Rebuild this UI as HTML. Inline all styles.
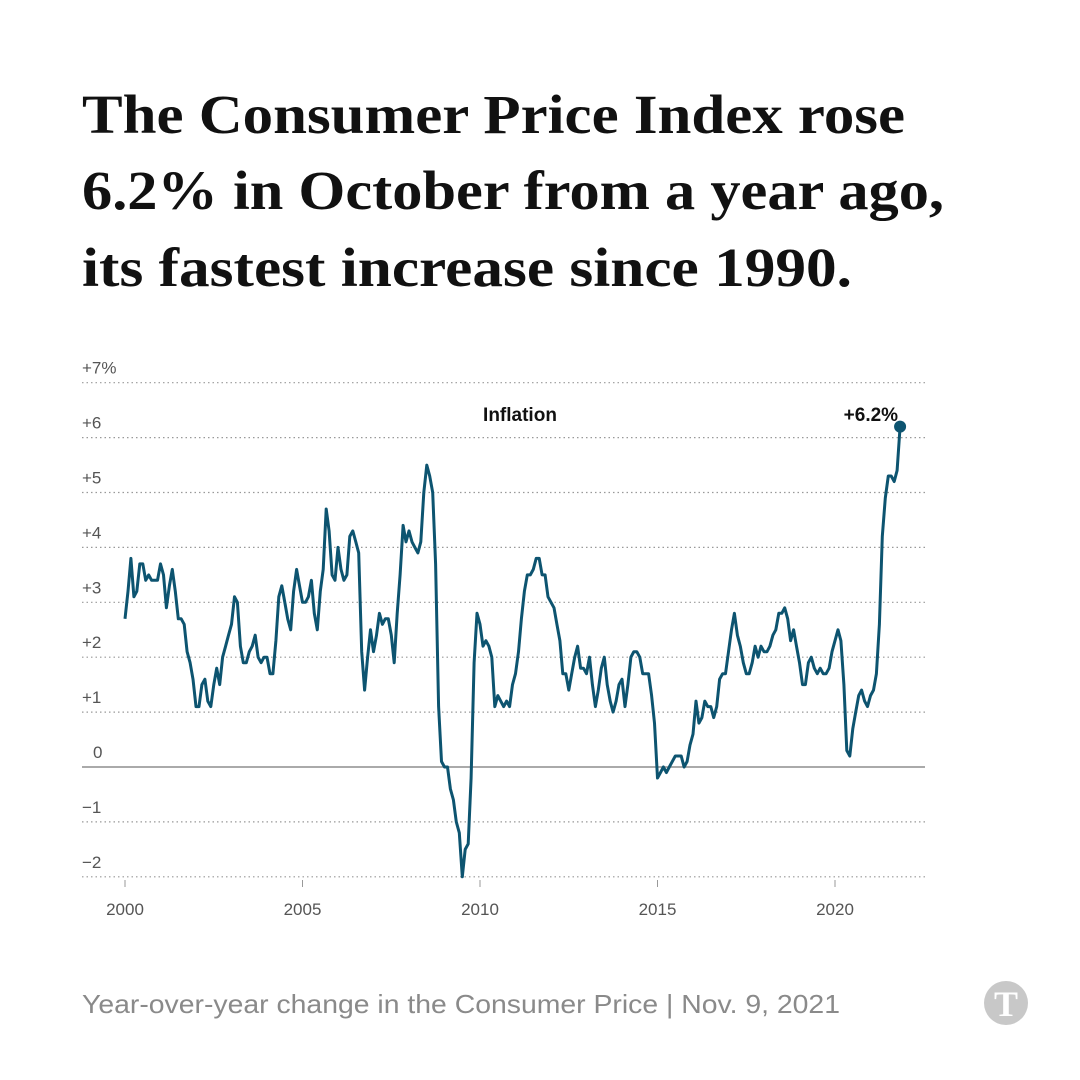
<!DOCTYPE html>
<html><head><meta charset="utf-8"><style>
html,body{margin:0;padding:0;background:#fff;}
svg{display:block;}
</style></head><body>
<svg id="chart" width="1080" height="1080" viewBox="0 0 1080 1080" xmlns="http://www.w3.org/2000/svg">
<rect width="1080" height="1080" fill="#fff"/>
<g font-family="'Liberation Serif', serif" font-weight="bold" font-size="55" fill="#111">
<text x="82" y="133" textLength="823" lengthAdjust="spacingAndGlyphs">The Consumer Price Index rose</text>
<text x="82" y="209" textLength="862" lengthAdjust="spacingAndGlyphs">6.2% in October from a year ago,</text>
<text x="82" y="286" textLength="770" lengthAdjust="spacingAndGlyphs">its fastest increase since 1990.</text>
</g>
<g id="grid"></g>
<g id="xaxis"></g>
<path id="line" fill="none" stroke="#0d5470" stroke-width="3" stroke-linejoin="round"/>
<g id="ann"></g>
<text x="82" y="1013" font-family="'Liberation Sans', sans-serif" font-size="26" fill="#8a8a8a" textLength="758" lengthAdjust="spacingAndGlyphs">Year-over-year change in the Consumer Price | Nov. 9, 2021</text>
<g>
<circle cx="1006" cy="1003" r="22" fill="#c8c8c8"/>
<text x="1006" y="1016" text-anchor="middle" font-family="'Liberation Serif', serif" font-weight="bold" font-size="36" fill="#fff">T</text>
</g>
</svg>
<script>
const yTicks=[-2,-1,0,1,2,3,4,5,6,7];
const yTickLabels=["\u22122","\u22121","0","+1","+2","+3","+4","+5","+6","+7%"];
const xTicks=[2000,2005,2010,2015,2020];
const startYear=2000;
const cpiYoY=[
2.7,3.2,3.8,3.1,3.2,3.7,3.7,3.4,3.5,3.4,3.4,3.4,
3.7,3.5,2.9,3.3,3.6,3.2,2.7,2.7,2.6,2.1,1.9,1.6,
1.1,1.1,1.5,1.6,1.2,1.1,1.5,1.8,1.5,2.0,2.2,2.4,
2.6,3.1,3.0,2.2,1.9,1.9,2.1,2.2,2.4,2.0,1.9,2.0,
2.0,1.7,1.7,2.3,3.1,3.3,3.0,2.7,2.5,3.2,3.6,3.3,
3.0,3.0,3.1,3.4,2.8,2.5,3.2,3.6,4.7,4.3,3.5,3.4,
4.0,3.6,3.4,3.5,4.2,4.3,4.1,3.9,2.1,1.4,2.0,2.5,
2.1,2.4,2.8,2.6,2.7,2.7,2.4,1.9,2.8,3.5,4.4,4.1,
4.3,4.1,4.0,3.9,4.1,5.0,5.5,5.3,5.0,3.7,1.1,0.1,
0.0,0.0,-0.4,-0.6,-1.0,-1.2,-2.0,-1.5,-1.4,-0.2,1.9,2.8,
2.6,2.2,2.3,2.2,2.0,1.1,1.3,1.2,1.1,1.2,1.1,1.5,
1.7,2.1,2.7,3.2,3.5,3.5,3.6,3.8,3.8,3.5,3.5,3.1,
3.0,2.9,2.6,2.3,1.7,1.7,1.4,1.7,2.0,2.2,1.8,1.8,
1.7,2.0,1.5,1.1,1.4,1.8,2.0,1.5,1.2,1.0,1.2,1.5,
1.6,1.1,1.5,2.0,2.1,2.1,2.0,1.7,1.7,1.7,1.3,0.8,
-0.2,-0.1,0.0,-0.1,0.0,0.1,0.2,0.2,0.2,0.0,0.1,0.4,
0.6,1.2,0.8,0.9,1.2,1.1,1.1,0.9,1.1,1.6,1.7,1.7,
2.1,2.5,2.8,2.4,2.2,1.9,1.7,1.7,1.9,2.2,2.0,2.2,
2.1,2.1,2.2,2.4,2.5,2.8,2.8,2.9,2.7,2.3,2.5,2.2,
1.9,1.5,1.5,1.9,2.0,1.8,1.7,1.8,1.7,1.7,1.8,2.1,
2.3,2.5,2.3,1.5,0.3,0.2,0.7,1.0,1.3,1.4,1.2,1.1,
1.3,1.4,1.7,2.6,4.2,4.9,5.3,5.3,5.2,5.4,6.2
];
const x0=125, pxPerYear=35.5, y0=767, pxPerUnit=54.9;
const xs=v=>x0+(v-startYear)*pxPerYear;
const ys=v=>y0-v*pxPerUnit;
const NS="http://www.w3.org/2000/svg";
const grid=document.getElementById('grid');
yTicks.forEach((t,i)=>{
  const l=document.createElementNS(NS,'line');
  
  
  l.setAttribute('x1',82);l.setAttribute('x2',925);
  l.setAttribute('y1',ys(t));l.setAttribute('y2',ys(t));
  if(t===0){l.setAttribute('stroke','#777');l.setAttribute('stroke-width','1.3');}
  else{l.setAttribute('stroke','#999');l.setAttribute('stroke-width','1.2');l.setAttribute('stroke-dasharray','1.5 3');}
  grid.appendChild(l);
  const tx=document.createElementNS(NS,'text');
  
  
  tx.setAttribute('x',t===0?93:82);tx.setAttribute('y',ys(t)-9);
  tx.setAttribute('font-family',"'Liberation Sans', sans-serif");
  tx.setAttribute('font-size','17');tx.setAttribute('fill','#555');
  tx.textContent=yTickLabels[i];
  grid.appendChild(tx);
});
const xa=document.getElementById('xaxis');
xTicks.forEach(t=>{
  const l=document.createElementNS(NS,'line');
  
  
  l.setAttribute('x1',xs(t));l.setAttribute('x2',xs(t));
  l.setAttribute('y1',880);l.setAttribute('y2',887);
  l.setAttribute('stroke','#999');
  xa.appendChild(l);
  const tx=document.createElementNS(NS,'text');
  
  
  tx.setAttribute('x',xs(t));tx.setAttribute('y',915);
  tx.setAttribute('text-anchor','middle');
  tx.setAttribute('font-family',"'Liberation Sans', sans-serif");
  tx.setAttribute('font-size','17');tx.setAttribute('fill','#555');
  tx.textContent=t;
  xa.appendChild(tx);
});
let d='';
cpiYoY.forEach((v,i)=>{d+=(i?'L':'M')+xs(startYear+i/12).toFixed(1)+','+ys(v).toFixed(1);});
document.getElementById('line').setAttribute('d',d);
const ann=document.getElementById('ann');
const li=cpiYoY.length-1;
const c=document.createElementNS(NS,'circle');


c.setAttribute('cx',xs(startYear+li/12));c.setAttribute('cy',ys(cpiYoY[li]));
c.setAttribute('r',6);c.setAttribute('fill','#0d5470');
ann.appendChild(c);
const lab=document.createElementNS(NS,'text');


lab.setAttribute('x',xs(startYear+li/12)-2);lab.setAttribute('y',421);
lab.setAttribute('text-anchor','end');
lab.setAttribute('font-family',"'Liberation Sans', sans-serif");
lab.setAttribute('font-size','19');lab.setAttribute('font-weight','bold');lab.setAttribute('fill','#111');
lab.textContent='+'+cpiYoY[li].toFixed(1)+'%';
ann.appendChild(lab);
const sl=document.createElementNS(NS,'text');


sl.setAttribute('x',520);sl.setAttribute('y',421);sl.setAttribute('text-anchor','middle');
sl.setAttribute('font-family',"'Liberation Sans', sans-serif");
sl.setAttribute('font-size','19');sl.setAttribute('font-weight','bold');sl.setAttribute('fill','#111');
sl.textContent='Inflation';
ann.appendChild(sl);
</script>
</body></html>
